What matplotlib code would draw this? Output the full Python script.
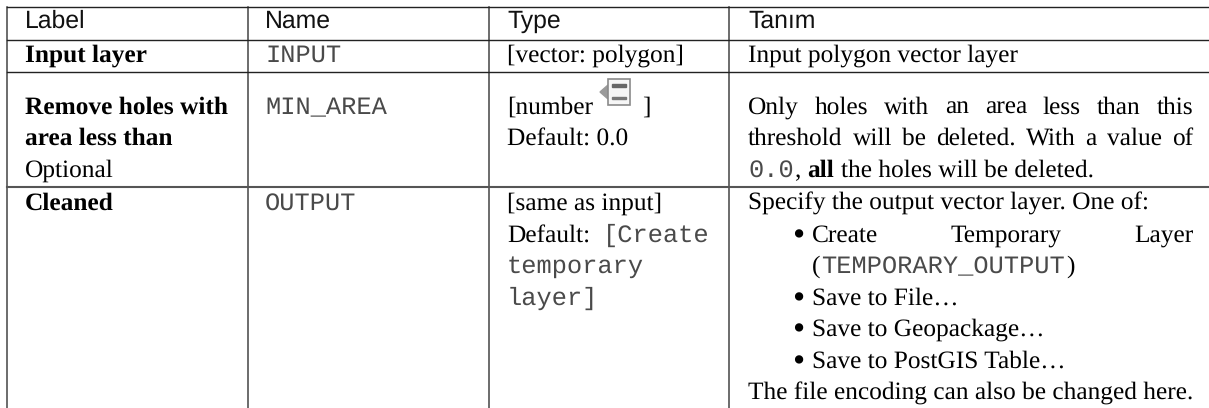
import matplotlib
matplotlib.use("Agg")
import matplotlib.pyplot as plt
from matplotlib.patches import Polygon, Rectangle

W, H = 1209, 408
serif = "Liberation Serif"
sans = "Liberation Sans"
mono = "Liberation Mono"
fs = 18.3
plt.rcParams["text.hinting"] = "no_hinting"

headers = ["Label", "Name", "Type", "Tanım"]
names = ["INPUT", "MIN_AREA", "OUTPUT"]
labels_bold = ["Input layer", "Remove holes with", "area less than", "Cleaned"]
label_optional = "Optional"
type_vector = "[vector: polygon]"
type_default = "Default: 0.0"
type_same = "[same as input]"
type_default_mono = ["[Create", "temporary", "layer]"]
desc_input = "Input polygon vector layer"
desc_holes = ["Only holes with an area less than this", "threshold will be deleted. With a value of"]
desc_out_first = "Specify the output vector layer. One of:"
desc_out_bullets = ["Save to File…", "Save to Geopackage…", "Save to PostGIS Table…"]
desc_out_last = "The file encoding can also be changed here."

col_lines = [7, 248, 489, 729]
row_lines = [6.5, 39.5, 72, 186.5]
col_text = [25, 265, 507, 748]
right_text = 1193

fig = plt.figure(figsize=(W / 100, H / 100), dpi=100, facecolor="w")
ax = fig.add_axes([0, 0, 1, 1])
ax.set_xlim(0, W)
ax.set_ylim(H, 0)
ax.axis("off")

for x in col_lines:
    ax.plot([x, x], [row_lines[0], H], color="#444444", lw=1.1)
for y in row_lines[:3]:
    ax.plot([col_lines[0], W], [y, y], color="#222222", lw=1.0)
ax.plot([col_lines[0], W], [row_lines[3], row_lines[3]], color="#555555", lw=1.5)


def put(x, y, s, family=serif, weight="normal", size=fs, color="k"):
    return ax.text(x, y, s, family=family, weight=weight, fontsize=size, color=color, va="baseline")


def width(t):
    return t.get_window_extent(fig.canvas.get_renderer()).width


def justify(x, y, s, right=right_text):
    words = s.split(" ")
    items = [put(x, y, w) for w in words]
    gap = (right - x - sum(width(t) for t in items)) / (len(items) - 1)
    for t in items:
        t.set_x(x)
        x += width(t) + gap


def bullet(y):
    put(792, y + 3.5, "•", size=25)


# header
for x, s in zip(col_text, headers):
    put(x, 28, s, family=sans, size=17.8, color="#111111")

# first column
put(col_text[0], 62, labels_bold[0], weight="bold")
put(col_text[0], 114, labels_bold[1], weight="bold")
put(col_text[0], 145, labels_bold[2], weight="bold")
put(col_text[0], 177, label_optional)
put(col_text[0], 210, labels_bold[3], weight="bold")

# name column
mono_col = "#4a4a4a"
put(col_text[1], 62, names[0], family=mono, color=mono_col)
put(col_text[1], 114, names[1], family=mono, color=mono_col)
put(col_text[1], 210, names[2], family=mono, color=mono_col)

# type column
put(col_text[2], 62, type_vector)
put(col_text[2], 114, "[number")
ax.add_patch(Polygon([(600, 92), (608, 85), (608, 99)], color="#9a9a9a"))
ax.add_patch(Rectangle((608, 79), 22, 26, fc="#f6f6f6", ec="#8a8a8a", lw=1.2))
ax.add_patch(Rectangle((612, 84), 14, 3, color="#666666"))
ax.add_patch(Rectangle((612, 97), 14, 2, color="#777777"))
put(642, 114, "]")
put(col_text[2], 145, type_default)
put(col_text[2], 210, type_same)
t = put(col_text[2], 242, "Default:")
put(col_text[2] + width(t) + 13, 242, type_default_mono[0], family=mono, color=mono_col)
put(col_text[2], 273, type_default_mono[1], family=mono, color=mono_col)
put(col_text[2], 305, type_default_mono[2], family=mono, color=mono_col)

# description column
put(col_text[3], 62, desc_input)
justify(col_text[3], 114, desc_holes[0])
justify(col_text[3], 145, desc_holes[1])
t = put(col_text[3], 177, "0.0", family=mono, color=mono_col)
x1 = col_text[3] + width(t)
t = put(x1, 177, ",")
x1 += width(t) + 7
t = put(x1, 177, "all", weight="bold")
x1 += width(t) + 7
put(x1, 177, "the holes will be deleted.")

put(col_text[3], 210, desc_out_first)
tx = 812
bullet(242)
justify(tx, 242, "Create Temporary Layer")
t = put(tx, 273, "(")
x2 = tx + width(t) + 1
t = put(x2, 273, "TEMPORARY_OUTPUT", family=mono, color=mono_col)
put(x2 + width(t) + 1, 273, ")")
for y, s in zip([305, 336, 368], desc_out_bullets):
    bullet(y)
    put(tx, y, s)
put(col_text[3], 400, desc_out_last)

fig.savefig("out.png", dpi=100)
